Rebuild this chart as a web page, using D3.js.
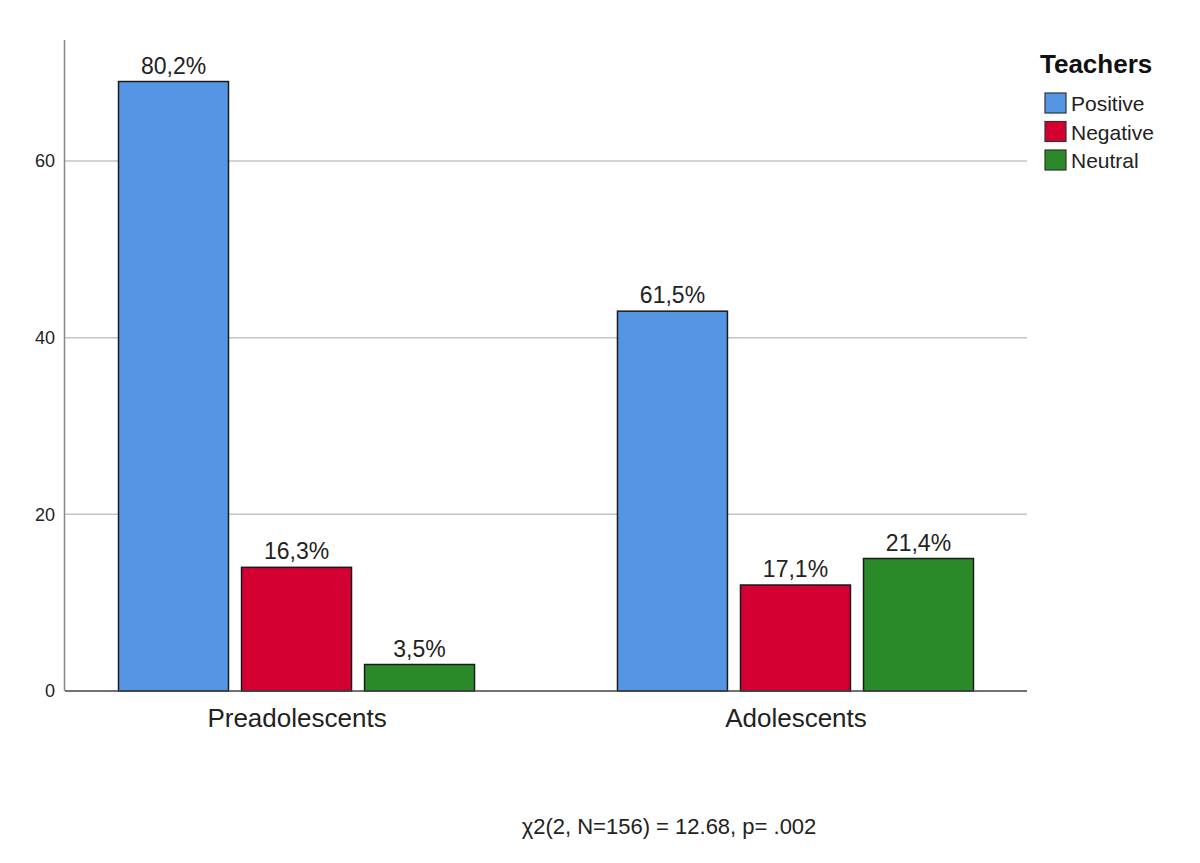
<!DOCTYPE html>
<html><head><meta charset="utf-8">
<script src="https://cdn.jsdelivr.net/npm/d3@7"></script>
<style>body{margin:0;background:#fff}svg{display:block;font-family:"Liberation Sans",Arial,sans-serif}</style>
</head><body><svg id="c" width="1200" height="863"></svg>
<script>
const groups = ["Preadolescents", "Adolescents"];
const series = ["Positive", "Negative", "Neutral"];
const counts = {
  Preadolescents: [69, 14, 3],
  Adolescents: [43, 12, 15]
};
const pctLabels = {
  Preadolescents: ["80,2%", "16,3%", "3,5%"],
  Adolescents: ["61,5%", "17,1%", "21,4%"]
};
const yTicks = [0, 20, 40, 60];
const colors = ["#5596e4", "#d50032", "#2a8a2a"];
const legendTitle = "Teachers";
const footnote = "\u03c72(2, N=156) = 12.68, p= .002";

const svg = d3.select("#c");
const L = 65, R = 1027, T = 40, B = 691;
const y = d3.scaleLinear().domain([0, 73.7]).range([B, T]);
const x0 = d3.scalePoint().domain(groups).range([L, R]).padding(0.464);
const x1 = d3.scaleBand().domain(series).range([-178, 178]).paddingInner(0.106).paddingOuter(0);

// gridlines
svg.append("g").selectAll("line").data(yTicks.filter(d => d > 0)).join("line")
  .attr("x1", L).attr("x2", R).attr("y1", d => y(d)).attr("y2", d => y(d))
  .attr("stroke", "#c4c4c4").attr("stroke-width", 1.5);

// y axis
const ya = svg.append("g").attr("transform", `translate(${L},0)`)
  .call(d3.axisLeft(y).tickValues(yTicks).tickSize(0).tickPadding(10));
ya.select(".domain").remove();
ya.selectAll("text").attr("font-size", 18).attr("fill", "#222").attr("font-family", "Liberation Sans, Arial, sans-serif");
svg.append("line").attr("x1", L - 0.5).attr("x2", L - 0.5).attr("y1", T).attr("y2", B)
  .attr("stroke", "#888").attr("stroke-width", 1.5);

// bars
const gG = svg.append("g").selectAll("g").data(groups).join("g")
  .attr("transform", d => `translate(${x0(d)},0)`);
gG.selectAll("rect").data(g => series.map((s, i) => ({g, s, i, v: counts[g][i]}))).join("rect")
  .attr("x", d => x1(d.s)).attr("width", x1.bandwidth())
  .attr("y", d => y(d.v)).attr("height", d => B - y(d.v))
  .attr("fill", d => colors[d.i]).attr("stroke", "#1a1a1a").attr("stroke-width", 1.5);
gG.selectAll("text").data(g => series.map((s, i) => ({g, s, i, v: counts[g][i]}))).join("text")
  .attr("x", d => x1(d.s) + x1.bandwidth()/2).attr("y", d => y(d.v) - 8)
  .attr("text-anchor", "middle").attr("font-size", 23).attr("fill", "#222")
  .text(d => pctLabels[d.g][d.i]);

// x axis
svg.append("line").attr("x1", L).attr("x2", R).attr("y1", B).attr("y2", B)
  .attr("stroke", "#444").attr("stroke-width", 1.5);
const xa = svg.append("g").attr("transform", `translate(0,${B})`)
  .call(d3.axisBottom(x0).tickSize(0).tickPadding(0));
xa.select(".domain").remove();
xa.selectAll("text").attr("dy", null).attr("y", 36).attr("font-size", 26).attr("fill", "#222")
  .attr("font-family", "Liberation Sans, Arial, sans-serif");

// legend
const lg = svg.append("g").attr("transform", "translate(1040,0)");
lg.append("text").attr("x", 0).attr("y", 73).attr("font-size", 26).attr("font-weight", "bold").attr("fill", "#111").text(legendTitle);
const li = lg.selectAll("g.li").data(series).join("g").attr("class", "li")
  .attr("transform", (d, i) => `translate(5,${93 + i * 28.5})`);
li.append("rect").attr("width", 21).attr("height", 20).attr("fill", (d, i) => colors[i])
  .attr("stroke", "#333").attr("stroke-width", 1.2);
li.append("text").attr("x", 26).attr("y", 18).attr("font-size", 21).attr("fill", "#222").text(d => d);

// footnote
svg.append("text").attr("x", 669).attr("y", 834).attr("text-anchor", "middle")
  .attr("font-size", 22).attr("fill", "#222").text(footnote);
</script></body></html>
